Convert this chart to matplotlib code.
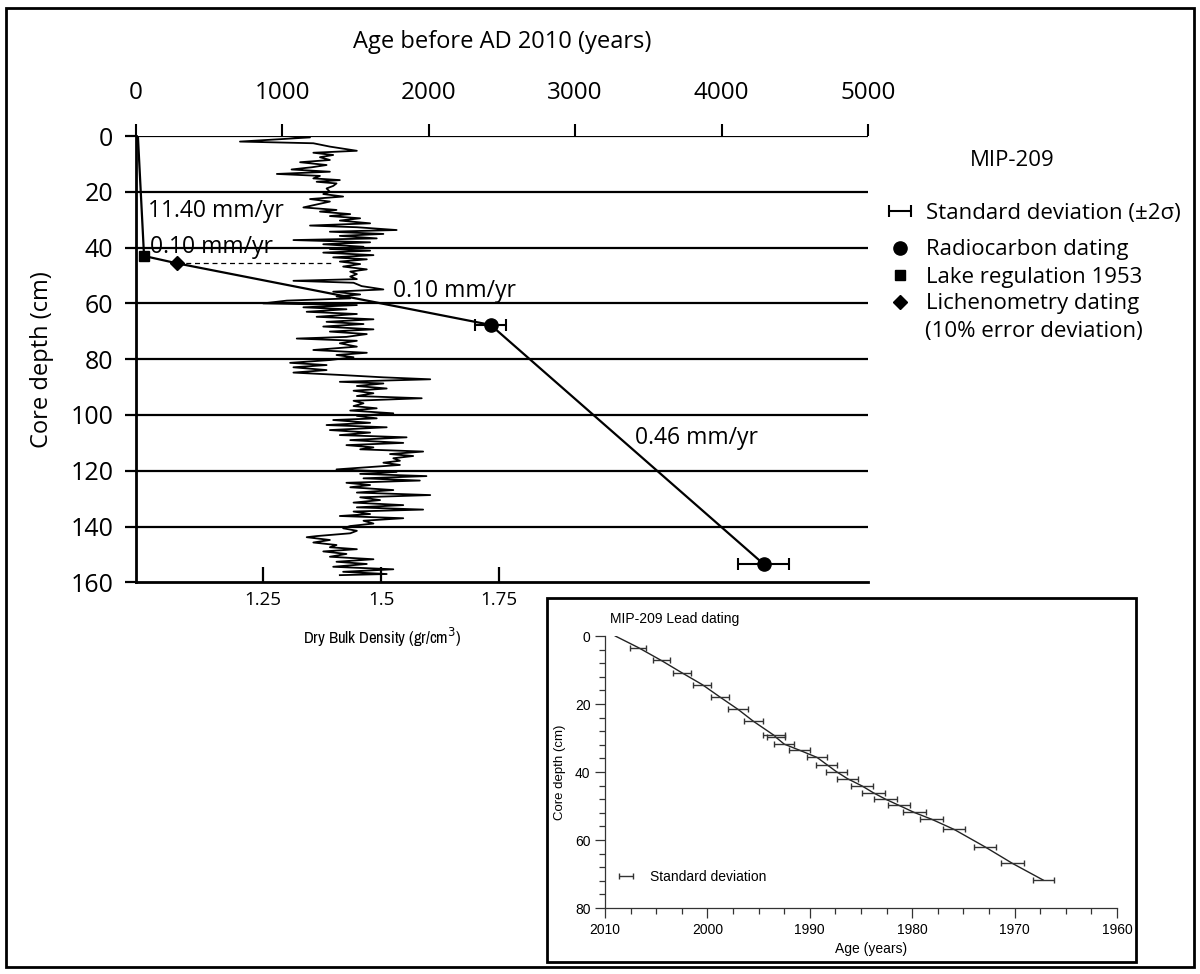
import matplotlib
matplotlib.use('Agg')
import matplotlib.pyplot as plt
from matplotlib.patches import Rectangle
from matplotlib import font_manager

plt.rcParams['font.family'] = ['Open Sans', 'DejaVu Sans']

# ---- main panel: age-depth model ----
age_line = [15, 57, 279, 2423, 4289]          # years before AD 2010
depth_line = [0, 43.0, 45.6, 67.7, 153.5]     # cm

lake_age, lake_depth = [57], [43.0]
lichen_age, lichen_depth = [279], [45.6]
c14_age = [2423, 4289]
c14_depth = [67.7, 153.5]
c14_err = [105, 175]

dash_age = [279, 1355]
dash_depth = [45.6, 45.6]

rate_labels = ['11.40 mm/yr', '0.10 mm/yr', '0.10 mm/yr', '0.46 mm/yr']
rate_age = [84, 98, 1757, 3408]
rate_depth = [27.0, 39.8, 55.6, 108.2]

age_ticks = [0, 1000, 2000, 3000, 4000, 5000]
depth_ticks = [0, 20, 40, 60, 80, 100, 120, 140, 160]
dens_ticks = [1.25, 1.5, 1.75]

# dry bulk density profile
dens_depth = [0.0, 0.5, 2.0, 2.6, 3.8, 5.3, 6.0, 6.8, 7.6, 8.6, 9.4, 10.4, 11.2, 12.0, 12.8,
              13.6, 14.3, 15.2, 15.8, 16.4, 17.0, 17.9, 18.8, 20.0, 20.8, 21.7, 22.6, 23.5,
              24.4, 25.6, 26.5, 27.1, 28.0, 28.7, 29.5, 30.3, 31.3, 32.1, 32.7, 33.7, 34.3,
              35.1, 35.8, 36.7, 37.3, 38.1, 38.8, 39.7, 40.5, 41.1, 41.8, 42.7, 43.5, 44.2,
              45.0, 45.9, 46.8, 47.8, 48.6, 49.5, 50.4, 51.3, 51.9, 52.6, 53.8, 55.0, 55.8,
              56.8, 57.5, 58.2, 59.0, 60.0, 60.6, 61.4, 62.1, 63.0, 63.8, 64.8, 65.7, 66.6,
              67.4, 68.3, 69.3, 70.1, 71.0, 72.0, 72.6, 73.4, 74.3, 75.5, 76.7, 77.7, 78.5,
              79.3, 80.3, 81.3, 82.1, 82.9, 83.9, 84.8, 85.7, 86.5, 87.2, 88.1, 88.7, 89.6,
              90.5, 91.3, 92.2, 93.2, 94.0, 94.9, 95.8, 96.8, 97.6, 98.4, 99.4, 100.3, 101.2,
              101.8, 102.8, 103.6, 104.4, 105.4, 106.3, 107.2, 108.0, 109.0, 110.0, 110.8,
              111.6, 112.3, 113.1, 114.0, 114.7, 115.5, 116.4, 117.1, 117.9, 118.8, 119.5,
              120.4, 121.1, 121.9, 122.7, 123.5, 124.3, 125.1, 125.9, 126.9, 127.8, 128.7,
              129.5, 130.5, 131.4, 132.3, 133.1, 133.9, 134.6, 135.5, 136.2, 137.0, 137.9,
              138.9, 139.8, 140.6, 141.5, 142.4, 143.4, 143.8, 144.8, 145.7, 146.6, 147.4,
              148.1, 148.9, 149.8, 150.8, 151.7, 152.6, 153.4, 154.4, 155.3, 156.2, 157.0,
              157.4]
dens_value = [1.301, 1.350, 1.202, 1.357, 1.392, 1.449, 1.357, 1.399, 1.371, 1.392, 1.329,
              1.385, 1.354, 1.311, 1.392, 1.280, 1.371, 1.357, 1.413, 1.364, 1.406, 1.399,
              1.385, 1.392, 1.378, 1.420, 1.350, 1.392, 1.368, 1.336, 1.406, 1.371, 1.435,
              1.392, 1.456, 1.413, 1.477, 1.350, 1.449, 1.533, 1.392, 1.505, 1.413, 1.491,
              1.315, 1.477, 1.378, 1.463, 1.392, 1.477, 1.378, 1.484, 1.399, 1.470, 1.413,
              1.456, 1.420, 1.470, 1.435, 1.449, 1.435, 1.449, 1.315, 1.442, 1.459, 1.505,
              1.399, 1.456, 1.406, 1.435, 1.301, 1.251, 1.449, 1.336, 1.427, 1.343, 1.449,
              1.364, 1.484, 1.385, 1.463, 1.378, 1.484, 1.392, 1.470, 1.427, 1.322, 1.449,
              1.413, 1.449, 1.357, 1.470, 1.406, 1.442, 1.392, 1.308, 1.385, 1.315, 1.385,
              1.315, 1.420, 1.505, 1.604, 1.413, 1.505, 1.449, 1.512, 1.442, 1.484, 1.449,
              1.586, 1.442, 1.463, 1.442, 1.491, 1.435, 1.526, 1.449, 1.491, 1.399, 1.477,
              1.385, 1.512, 1.392, 1.477, 1.413, 1.554, 1.435, 1.547, 1.427, 1.484, 1.456,
              1.589, 1.519, 1.568, 1.526, 1.540, 1.505, 1.540, 1.463, 1.406, 1.533, 1.456,
              1.596, 1.463, 1.582, 1.427, 1.477, 1.435, 1.526, 1.449, 1.604, 1.456, 1.498,
              1.442, 1.547, 1.449, 1.589, 1.442, 1.477, 1.413, 1.547, 1.463, 1.484, 1.435,
              1.420, 1.449, 1.435, 1.364, 1.343, 1.392, 1.357, 1.406, 1.392, 1.449, 1.378,
              1.427, 1.392, 1.484, 1.406, 1.470, 1.399, 1.526, 1.420, 1.512, 1.413]

# ---- inset: lead dating ----
pb_year = [2009.0, 2006.75, 2004.5, 2002.5, 2000.5, 1998.75, 1997.0, 1995.5, 1993.5, 1993.3,
           1992.5, 1991.0, 1989.3, 1988.35, 1987.4, 1986.3, 1984.9, 1983.8, 1982.6, 1981.3,
           1979.8, 1978.1, 1975.9, 1972.9, 1970.2, 1967.2]
pb_depth = [0.0, 3.4, 7.2, 10.8, 14.3, 18.0, 21.6, 25.1, 29.2, 29.8, 31.8, 33.6, 35.7, 37.8,
            39.9, 42.0, 44.1, 46.1, 48.0, 49.8, 51.9, 53.9, 56.9, 62.0, 66.9, 71.8]
pb_err = [0.0, 0.8, 0.8, 0.85, 0.9, 0.9, 0.95, 0.95, 1.1, 0.9, 1.0, 1.0, 1.0, 1.0, 1.0, 1.05,
          1.1, 1.1, 1.1, 1.1, 1.1, 1.1, 1.1, 1.1, 1.1, 1.05]

W, H = 1200, 974
FS = 17
LEG_FS = 16
fig = plt.figure(figsize=(12, 9.74), dpi=100)


def fx(px):
    return px / W


def fy(py):
    return 1 - py / H


# outer frame
fig.patches.append(Rectangle((fx(6), fy(967)), fx(1194) - fx(6), fy(8) - fy(967),
                             transform=fig.transFigure, fill=False, ec='black', lw=2))

ax = fig.add_axes([fx(135.7), fy(582.4), fx(868) - fx(135.7), fy(136) - fy(582.4)])
ax2 = ax.twiny()   # density axis, drawn along the bottom

ax.set_xlim(0, 5000)
ax.set_ylim(160, 0)
for d in depth_ticks[:-1]:
    ax.axhline(d, color='black', lw=1.6, zorder=1)
ax.spines['top'].set_visible(False)
ax.spines['right'].set_visible(False)
ax.spines['left'].set_linewidth(2)
ax.spines['bottom'].set_linewidth(2)
ax.xaxis.set_ticks_position('top')
ax.xaxis.set_label_position('top')
ax.set_xticks(age_ticks)
ax.set_yticks(depth_ticks)
ax.tick_params(axis='x', direction='out', length=9, width=1.5, labelsize=17.5, pad=13)
ax.tick_params(axis='y', direction='out', length=8, width=1.6, labelsize=18, pad=8)
ax.set_xlabel('Age before AD 2010 (years)', fontsize=FS, labelpad=24)
ax.set_ylabel('Core depth (cm)', fontsize=FS, labelpad=12)

ax.plot(age_line, depth_line, color='black', lw=1.6, zorder=4)
ax.plot(dash_age, dash_depth, color='black', lw=0.9, ls=(0, (4, 3)), zorder=4)
eb = ax.errorbar(c14_age, c14_depth, xerr=c14_err, fmt='none', ecolor='black',
                 elinewidth=1.5, capsize=4, capthick=1.5, zorder=5,
                 label='Standard deviation (\u00b12\u03c3)')
c1, = ax.plot(c14_age, c14_depth, 'o', color='black', ms=9.5, ls='none', zorder=6,
              label='Radiocarbon dating')
s1, = ax.plot(lake_age, lake_depth, 's', color='black', ms=7, ls='none', zorder=6,
              label='Lake regulation 1953')
d1, = ax.plot(lichen_age, lichen_depth, 'D', color='black', ms=7.5, ls='none', zorder=6,
              label='Lichenometry dating')

for txt, a, d in zip(rate_labels, rate_age, rate_depth):
    ax.text(a, d, txt, fontsize=16.5, ha='left', va='center', zorder=7)

ax2.set_xlim(0.9817, 2.529)
ax2.set_ylim(160, 0)
ax2.plot(dens_value, dens_depth, color='black', lw=1.3)
for s in ax2.spines.values():
    s.set_visible(False)
ax2.xaxis.set_ticks_position('bottom')
ax2.xaxis.set_label_position('bottom')
ax2.set_xticks(dens_ticks)
ax2.set_xticklabels(['1.25', '1.5', '1.75'])
ax2.tick_params(axis='x', direction='in', length=11, width=1.6, labelsize=13.5, pad=6)

# narrow face for the density label if one is installed
narrow = None
for f in font_manager.fontManager.ttflist:
    if 'Narrow' in f.name or 'Condensed' in f.name:
        narrow = (f.name, 'normal')
        break
    if str(f.stretch) in ('condensed', 'semi-condensed', '75', '87'):
        narrow = (f.name, f.stretch)
if narrow:
    ax2.set_xlabel('Dry Bulk Density (gr/cm$^3$)', fontsize=12, family=narrow[0],
                   fontstretch=narrow[1])
else:
    ax2.set_xlabel('Dry Bulk Density (gr/cm$^3$)', fontsize=10.5)
ax2.xaxis.set_label_coords((382 - 135.7) / (868 - 135.7), -(637 - 582.4) / (582.4 - 136))
ax2.xaxis.label.set_va('center')

# legend, one entry per row to keep the reference's uneven spacing
fig.text(fx(1012), fy(160), 'MIP-209', fontsize=LEG_FS, ha='center', va='center')
leg_handles = [eb, c1, s1, d1]
leg_rows = [213, 250, 277, 304]
for h, row in zip(leg_handles, leg_rows):
    fig.legend([h], [h.get_label()], loc='center left',
               bbox_to_anchor=(fx(880), fy(row)), frameon=False, fontsize=LEG_FS,
               handlelength=1.8, handletextpad=0.25, borderpad=0, borderaxespad=0,
               numpoints=1)
fig.text(fx(925), fy(331), '(10% error deviation)', fontsize=LEG_FS, ha='left', va='center')

# ---- inset ----
fig.patches.append(Rectangle((fx(547), fy(962)), fx(1136) - fx(547), fy(598) - fy(962),
                             transform=fig.transFigure, fc='white', ec='black', lw=2,
                             zorder=2))
axi = fig.add_axes([fx(605), fy(908), fx(1117) - fx(605), fy(636) - fy(908)])
axi.set_zorder(5)
axi.set_facecolor('none')
axi.set_xlim(2010, 1960)
axi.set_ylim(80, 0)
axi.spines['top'].set_visible(False)
axi.spines['right'].set_visible(False)
for s in ['left', 'bottom']:
    axi.spines[s].set_linewidth(0.9)
    axi.spines[s].set_color('#333333')
axi.set_xticks([2010, 2000, 1990, 1980, 1970, 1960])
axi.set_xticks([2010 - 2.5 * i for i in range(21)], minor=True)
axi.set_yticks([0, 20, 40, 60, 80])
axi.set_yticks(list(range(0, 81, 4)), minor=True)
axi.tick_params(which='major', length=7, width=0.9, color='#333333', labelsize=10,
                labelfontfamily='Liberation Sans')
axi.tick_params(which='minor', length=4, width=0.9, color='#333333')
axi.set_xlabel('Age (years)', fontsize=10, family='Liberation Sans', labelpad=0)
axi.xaxis.set_label_coords(0.52, -0.125)
axi.set_ylabel('Core depth (cm)', fontsize=9.5, family='Liberation Sans', labelpad=6)
axi.text(2009.5, -5, 'MIP-209 Lead dating', fontsize=10, family='Liberation Sans',
         ha='left', va='center')
axi.plot(pb_year, pb_depth, color='#222222', lw=1.0)
ebi = axi.errorbar(pb_year[1:], pb_depth[1:], xerr=pb_err[1:], fmt='none', ecolor='#333333',
                   elinewidth=1.0, capsize=2.5, capthick=1.0, label='Standard deviation')
axi.legend([ebi], ['Standard deviation'], loc='lower left', bbox_to_anchor=(0.01, 0.09),
           frameon=False, prop={'family': 'Liberation Sans', 'size': 10},
           handlelength=2.3, handletextpad=0.6, borderpad=0, borderaxespad=0)

fig.savefig('out.png', dpi=100)
